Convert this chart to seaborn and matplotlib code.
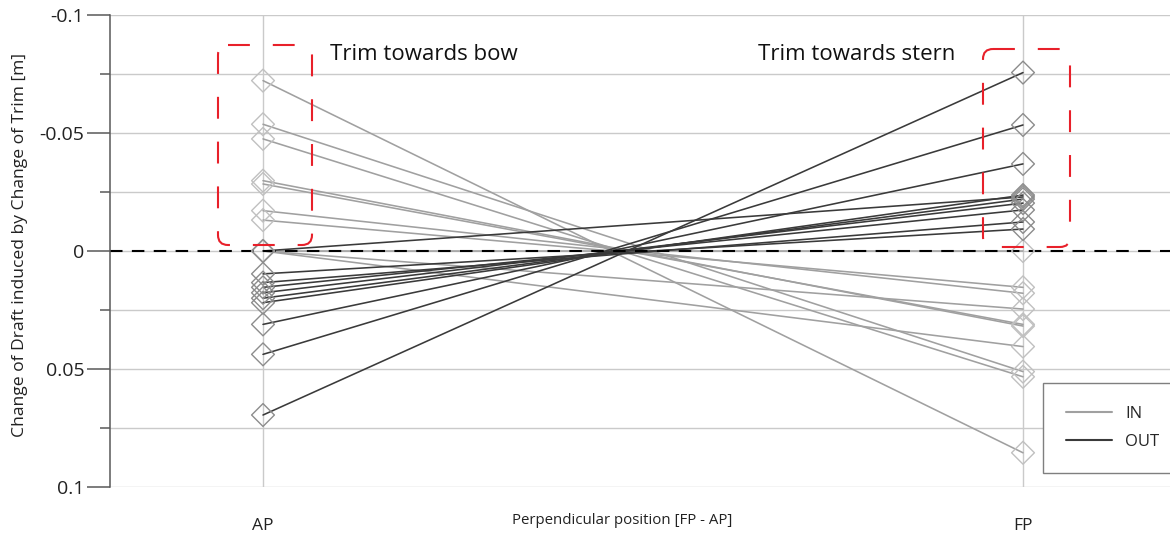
import numpy as np
import pandas as pd
import matplotlib
matplotlib.use("Agg")
import matplotlib.pyplot as plt
import seaborn as sns
from matplotlib.patches import FancyBboxPatch

# ---------------- data ----------------
positions = ["AP", "FP"]
pos_values = [0.0, 1.0]

in_ap = [-0.0722, -0.0537, -0.0475, -0.0298, -0.0284, -0.0171, -0.0131, 0.0, 0.0, 0.0]
in_fp = [0.0855, 0.0511, 0.0533, 0.0318, 0.0311, 0.0179, 0.0154, 0.0246, 0.0405, 0.0]

out_ap = [0.0695, 0.0438, 0.0311, 0.0219, 0.0200, 0.0177, 0.0154, 0.0134, 0.0097, 0.0]
out_fp = [-0.0756, -0.0534, -0.0369, -0.0237, -0.0220, -0.0203, -0.0174, -0.0123, -0.0093, -0.0229]

y_major = [-0.1, -0.05, 0.0, 0.05, 0.1]
y_major_labels = ["-0.1", "-0.05", "0", "0.05", "0.1"]
y_minor = [-0.075, -0.025, 0.025, 0.075]

series_names = ["IN", "OUT"]
annot_texts = ["Trim towards bow", "Trim towards stern"]

# long-form table
rows = []
lid = 0
for name, ap, fp in (("IN", in_ap, in_fp), ("OUT", out_ap, out_fp)):
    for a, f in zip(ap, fp):
        rows.append({"id": lid, "group": name, "x": pos_values[0], "value": a})
        rows.append({"id": lid, "group": name, "x": pos_values[1], "value": f})
        lid += 1
df = pd.DataFrame(rows)

# ---------------- style ----------------
sns.set_theme(style="white")
plt.rcParams["font.family"] = ["Open Sans", "DejaVu Sans"]

fig = plt.figure(figsize=(11.7, 5.35), dpi=100)
ax = fig.add_axes([110 / 1170, 1 - 487 / 535, 1 - 110 / 1170, (487 - 15) / 535])

line_cols = {"IN": "#a0a0a0", "OUT": "#3a3a3a"}
marker_cols = {"IN": "#c0c0c0", "OUT": "#8c8c8c"}

sns.lineplot(data=df, x="x", y="value", hue="group", units="id", estimator=None,
             palette=line_cols, hue_order=series_names, linewidth=1.15,
             ax=ax, legend=True, zorder=2)

ax.axhline(0, color="black", linewidth=1.5, linestyle=(0, (6, 4.5)), zorder=2.5)

for name in series_names:
    sns.scatterplot(data=df[df["group"] == name], x="x", y="value", marker="D", s=135,
                    color=marker_cols[name], edgecolor=marker_cols[name],
                    facecolor="none", linewidth=1.0, legend=False, ax=ax, zorder=3)

# axes limits (AP at px 263, FP at px 1023)
ax.set_xlim((110 - 263) / 760, (1170 - 263) / 760)
ax.set_ylim(0.1, -0.1)

ax.set_xticks(pos_values)
ax.set_xticklabels(positions, fontsize=12.5)
ax.set_yticks(y_major)
ax.set_yticklabels(y_major_labels, fontsize=14)
ax.set_yticks(y_minor, minor=True)

ax.tick_params(axis="x", length=14, width=1, color="#c8c8c8", pad=8, labelcolor="#222222")
ax.tick_params(axis="y", which="major", length=16.5, width=1.1, color="#595959",
               pad=2, labelcolor="#222222", left=True)
ax.tick_params(axis="y", which="minor", length=7, width=1.1, color="#595959", left=True)

ax.grid(axis="y", which="both", color="#cacaca", linewidth=1.0)
ax.grid(axis="x", which="major", color="#cacaca", linewidth=1.0)
ax.set_axisbelow(True)

for s in ["top", "right", "bottom"]:
    ax.spines[s].set_visible(False)
ax.spines["left"].set_color("#595959")
ax.spines["left"].set_linewidth(1.1)

ax.set_ylabel("Change of Draft induced by Change of Trim [m]", fontsize=12.6, color="#222222")
ax.yaxis.set_label_coords((28 - 110) / 1060, (487 - 245) / 472)
ax.set_xlabel("Perpendicular position [FP - AP]", fontsize=10.8, color="#222222")
ax.xaxis.set_label_coords((622 - 110) / 1060, (487 - 513) / 472)

# red dashed rounded boxes
px_x = 1 / 760.0
px_y = 1 / 2360.0
red = "#e8202a"
for (x0p, x1p, y0p, y1p) in ((218, 312, 45, 245), (983, 1070, 49, 247)):
    x0 = (x0p - 263) * px_x
    w = (x1p - x0p) * px_x
    y0 = (y0p - 251) * px_y
    h = (y1p - y0p) * px_y
    box = FancyBboxPatch((x0, y0), w, h,
                         boxstyle=f"round,pad=0,rounding_size={10 * px_x}",
                         mutation_aspect=px_y / px_x,
                         fill=False, edgecolor=red, linewidth=1.5,
                         linestyle=(0, (10.5, 11)), zorder=4)
    ax.add_patch(box)

ax.text((330 - 263) * px_x, (55 - 251) * px_y, annot_texts[0], fontsize=16,
        ha="left", va="center", color="#111111")
ax.text((955 - 263) * px_x, (55 - 251) * px_y, annot_texts[1], fontsize=16,
        ha="right", va="center", color="#111111")

handles, labels = ax.get_legend_handles_labels()
hl = [(h, l) for h, l in zip(handles, labels) if l in series_names]
leg = ax.legend([h for h, _ in hl], [l for _, l in hl], loc="upper left",
                bbox_to_anchor=((1043 - 110) / 1060, (487 - 383) / 472),
                borderaxespad=0, frameon=True, fancybox=False, framealpha=1,
                edgecolor="#7f7f7f", fontsize=12, handlelength=2.8,
                handletextpad=0.8, borderpad=1.35, labelspacing=0.75)
leg.get_frame().set_linewidth(1.0)
for line in leg.get_lines():
    line.set_linewidth(1.5)

fig.savefig("out.png", dpi=100)
